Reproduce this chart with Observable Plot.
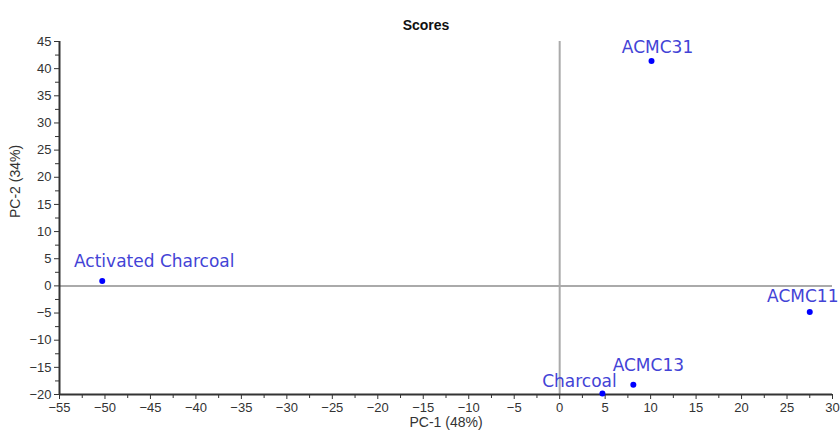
<!DOCTYPE html>
<html>
<head>
<meta charset="utf-8">
<script src="https://cdn.jsdelivr.net/npm/d3@7"></script>
<script src="https://cdn.jsdelivr.net/npm/@observablehq/plot@0.6"></script>
<style>
  html, body { margin: 0; padding: 0; background: #fff; }
</style>
</head>
<body>
<div id="chart"></div>
<script>
// ---- data ----
const names = ["Activated Charcoal", "ACMC31", "ACMC11", "ACMC13", "Charcoal"];
const pc1 = [-50.3, 10.1, 27.5, 8.1, 4.7];
const pc2 = [0.9, 41.4, -4.8, -18.2, -19.8];
const xTicks = [-55, -50, -45, -40, -35, -30, -25, -20, -15, -10, -5, 0, 5, 10, 15, 20, 25, 30];
const yTicks = [-20, -15, -10, -5, 0, 5, 10, 15, 20, 25, 30, 35, 40, 45];
const titleText = "Scores";
const xLabel = "PC-1 (48%)";
const yLabel = "PC-2 (34%)";

// ---- styling (label placement offsets in pixels) ----
const labelOffsets = {
  "Activated Charcoal": [52, -19],
  "ACMC31": [6, -14],
  "ACMC11": [-7, -15],
  "ACMC13": [15, -19],
  "Charcoal": [-23, -12]
};

const points = names.map((n, i) => ({name: n, x: pc1[i], y: pc2[i]}));
const xMinor = xTicks.slice(1).map(t => t - 2.5);
const yMinor = yTicks.slice(1).map(t => t - 2.5);
const axisColor = "#333";
const labelColor = "#4343d6";

const labelMarks = points.map(p => Plot.text([p], {
  x: "x", y: "y", text: "name",
  dx: labelOffsets[p.name][0], dy: labelOffsets[p.name][1],
  fill: labelColor, fontSize: 17, fontFamily: "DejaVu Sans, Verdana, sans-serif"
}));

const chart = Plot.plot({
  width: 840,
  height: 434,
  marginLeft: 59,
  marginRight: 8,
  marginTop: 41,
  marginBottom: 40,
  style: {fontFamily: "Liberation Sans, Arial, sans-serif", fontSize: "13px", color: axisColor, background: "#fff"},
  x: {domain: [-55, 30]},
  y: {domain: [-20, 45]},
  marks: [
    Plot.ruleX([0], {stroke: "#aaa", strokeWidth: 2}),
    Plot.ruleY([0], {stroke: "#aaa", strokeWidth: 2}),
    Plot.axisX({ticks: xTicks, tickSize: 5, tickPadding: 3, label: null, color: axisColor, fontSize: 13}),
    Plot.axisX({ticks: xMinor, tickSize: 4, text: null, label: null, color: axisColor}),
    Plot.axisY({ticks: yTicks, tickSize: 5, tickPadding: 3, label: null, color: axisColor, fontSize: 13}),
    Plot.axisY({ticks: yMinor, tickSize: 4, text: null, label: null, color: axisColor}),
    Plot.ruleX([-55], {stroke: axisColor, strokeWidth: 2}),
    Plot.ruleY([-20], {stroke: axisColor, strokeWidth: 2}),
    Plot.dot(points, {x: "x", y: "y", r: 3, fill: "#0000ff", stroke: "none"}),
    ...labelMarks,
    Plot.text([titleText], {frameAnchor: "top", dx: -20, dy: -21, fontWeight: "bold", fontSize: 14, fill: "#111"}),
    Plot.text([xLabel], {frameAnchor: "bottom", dy: 32, fontSize: 14, fill: axisColor}),
    Plot.text([yLabel], {frameAnchor: "left", dx: -44, rotate: -90, fontSize: 14, fill: axisColor})
  ]
});

document.getElementById("chart").appendChild(chart);
</script>
</body>
</html>
